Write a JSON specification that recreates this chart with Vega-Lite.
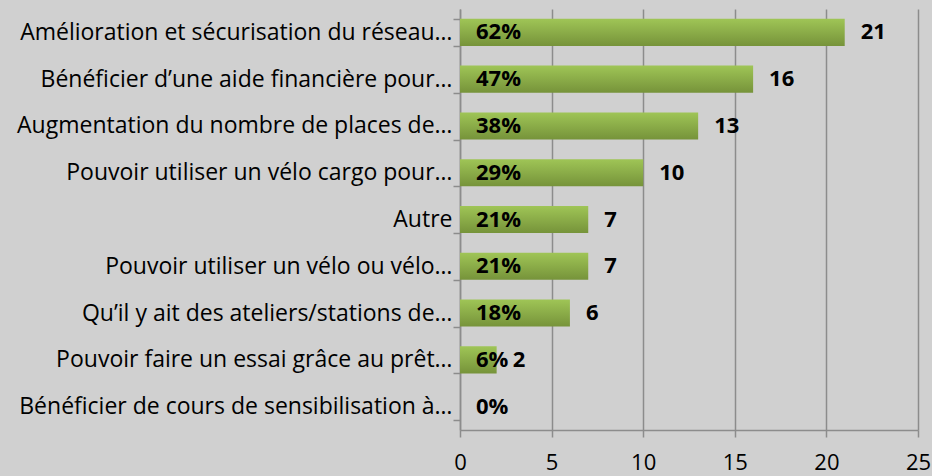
{
  "$schema": "https://vega.github.io/schema/vega-lite/v6.json",
  "autosize": {"type": "none"},
  "width": 458,
  "height": 421,
  "padding": {"left": 460, "top": 9, "right": 14, "bottom": 46},
  "background": "#d0d0d0",
  "config": {
    "view": {"stroke": null},
    "font": "Open Sans",
    "axis": {"labelFont": "Open Sans", "labelColor": "#000000", "labelFontSize": 23, "domainColor": "#8c8c8c", "tickColor": "#8c8c8c", "gridColor": "#8c8c8c", "tickSize": 7, "domainWidth": 1.5, "gridWidth": 1.5, "tickWidth": 1.5}
  },
  "data": {
    "values": [
      {"cat": "Amélioration et sécurisation du réseau…", "n": 21, "pct": "62%"},
      {"cat": "Bénéficier d’une aide financière pour…", "n": 16, "pct": "47%"},
      {"cat": "Augmentation du nombre de places de…", "n": 13, "pct": "38%"},
      {"cat": "Pouvoir utiliser un vélo cargo pour…", "n": 10, "pct": "29%"},
      {"cat": "Autre", "n": 7, "pct": "21%"},
      {"cat": "Pouvoir utiliser un vélo ou vélo…", "n": 7, "pct": "21%"},
      {"cat": "Qu’il y ait des ateliers/stations de…", "n": 6, "pct": "18%"},
      {"cat": "Pouvoir faire un essai grâce au prêt…", "n": 2, "pct": "6%"},
      {"cat": "Bénéficier de cours de sensibilisation à…", "n": 0, "pct": "0%"}
    ]
  },
  "encoding": {
    "y": {"field": "cat", "type": "nominal", "sort": null, "title": null,
      "scale": {"paddingInner": 0.42, "paddingOuter": 0.21},
      "axis": {"tickBand": "extent", "labelLimit": 0, "labelPadding": 1}},
    "x": {"field": "n", "type": "quantitative", "title": null,
      "scale": {"domain": [0, 25], "nice": false},
      "axis": {"values": [0, 5, 10, 15, 20, 25], "grid": true, "labelPadding": 15, "labelFontSize": 22, "labelFlush": false}}
  },
  "layer": [
    {"mark": {"type": "bar", "color": {"gradient": "linear", "x1": 0, "y1": 0, "x2": 0, "y2": 1, "stops": [{"offset": 0, "color": "#9fc556"}, {"offset": 1, "color": "#76933a"}]}}},
    {"mark": {"type": "text", "align": "left", "dx": 16, "fontWeight": "bold", "fontSize": 22, "color": "#000000"},
      "encoding": {"x": {"datum": 0}, "text": {"field": "pct"}}},
    {"transform": [{"filter": "datum.n > 0"}],
      "mark": {"type": "text", "align": "left", "dx": 16, "fontWeight": "bold", "fontSize": 22, "color": "#000000"},
      "encoding": {"text": {"field": "n"}}}
  ]
}
